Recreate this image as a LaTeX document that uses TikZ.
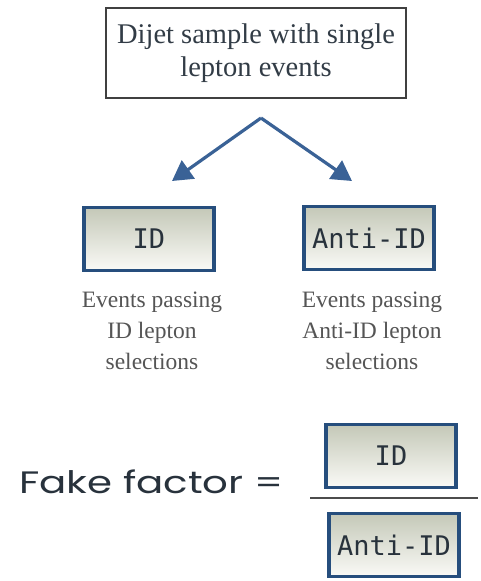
\documentclass[tikz,border=0pt]{standalone}
\usepackage{fontspec}
\setmainfont{Liberation Serif}
\newfontfamily\handfont{DejaVu Sans Mono}
\newfontfamily\fakefont{Poppins}
\usetikzlibrary{arrows.meta}
\definecolor{boxblue}{RGB}{38,78,125}
\definecolor{arrowblue}{RGB}{58,98,150}
\definecolor{boxtop}{RGB}{196,200,184}
\definecolor{boxbot}{RGB}{250,250,246}
\definecolor{captiongray}{RGB}{85,85,85}
\definecolor{toptext}{RGB}{50,60,70}
\definecolor{handtext}{RGB}{40,50,60}
\tikzset{
  topbox/.style={draw=black!75, line width=1.6pt, minimum width=300pt, minimum height=90pt,
    align=center, text=toptext, font=\fontsize{28.5}{33}\selectfont, inner sep=0pt},
  selbox/.style={draw=boxblue, line width=3.2pt, shade, shading angle=135,
    top color=boxtop, bottom color=boxbot, minimum width=130pt, minimum height=63pt,
    inner sep=0pt, text=handtext, font=\handfont\fontsize{27}{30}\selectfont},
  caption/.style={align=center, text=captiongray, font=\fontsize{23.5}{31}\selectfont},
  flowarrow/.style={draw=arrowblue, line width=3.2pt, -{Triangle[length=20pt,width=22pt]}},
}
\begin{document}
\begin{tikzpicture}[x=1pt,y=-1pt]
\useasboundingbox (0,0) rectangle (481,581);
\node[topbox] (sample) at (256,53) {Dijet sample with single\\lepton events};
\coordinate (apex) at (261,118);
\coordinate (ltip) at (172,181);
\coordinate (rtip) at (352,181);
\draw[flowarrow] (apex) -- (ltip);
\draw[flowarrow] (apex) -- (rtip);
\node[selbox] (id) at (149,239) {ID};
\node[selbox] (anti) at (369,238) {Anti-ID};
\node[caption] (capid) at (152,331) {Events passing\\ID lepton\\selections};
\node[caption] (capanti) at (372,331) {Events passing\\Anti-ID lepton\\selections};
\node[font=\fakefont\fontsize{31}{34}\selectfont, text=handtext, anchor=west, inner sep=0pt] (fake) at (19,482) {\scalebox{1.3}[1]{Fake factor =}};
\node[selbox] (num) at (391,456) {ID};
\coordinate (fracl) at (310,498);
\coordinate (fracr) at (478,498);
\draw[line width=2.5pt, draw=black!70] (fracl) -- (fracr);
\node[selbox] (den) at (394,545) {Anti-ID};
\end{tikzpicture}
\end{document}
